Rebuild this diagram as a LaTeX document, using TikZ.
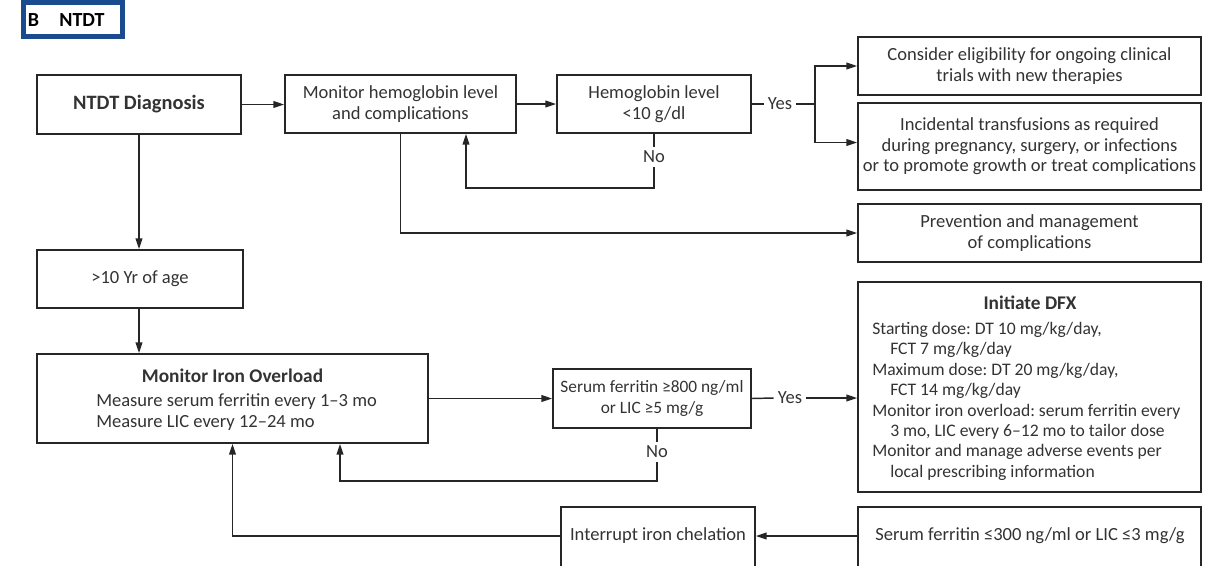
\documentclass[tikz,border=0pt]{standalone}
\usepackage{fontspec}
\setmainfont{Carlito}
\usetikzlibrary{arrows.meta}
\definecolor{ln}{HTML}{262626}
\definecolor{tx}{HTML}{333333}
\definecolor{nejm}{HTML}{1A4B8F}
\frenchspacing
\newcommand\myfs{\fontsize{13.9}{15.4}\selectfont}
\newcommand\dfxfs{\fontsize{13.2}{15.3}\selectfont}
\newcommand\hdfs{\fontsize{14.5}{16}\selectfont\bfseries}
\newcommand\ind{\hspace*{13.5pt}}
\begin{document}
\begin{tikzpicture}[x=0.75pt,y=-0.75pt,
  box/.style={draw=ln, line width=1.3pt, fill=white, inner sep=0pt, align=center, text=tx, font=\myfs},
  sz/.style 2 args={minimum width={#1*0.75pt}, minimum height={#2*0.75pt}},
  txt/.style={inner sep=0pt, text=tx, font=\myfs, align=center},
  con/.style={draw=ln, line width=1.1pt},
  arr/.style={con, -{Triangle[length=8pt,width=5pt]}},
]
\useasboundingbox (0,0) rectangle (1215,565);
\clip (0,0) rectangle (1215,565);

% title
\node[draw=nejm, line width=3.8pt, inner sep=0pt, sz={99}{34}] (ttl) at (73,19.5) {};
\node[txt, font=\fontsize{15}{16}\selectfont\bfseries, text=black] (ttlB) at (33.5,20) {B};
\node[txt, font=\fontsize{15}{16}\selectfont\bfseries, text=black] (ttlN) at (82,20) {NTDT};

% boxes
\node[box, sz={204}{59}, font=\fontsize{15.3}{17}\selectfont\bfseries] (diag) at (139,104.5) {NTDT Diagnosis};
\node[box, sz={231}{58}] (monhb) at (400.5,104) {Monitor hemoglobin level\\and complications};
\node[box, sz={194}{58}] (hb) at (654,104) {Hemoglobin level\\<10 g/dl};
\node[box, sz={343}{58}] (cons) at (1029.5,66) {Consider eligibility for ongoing clinical\\trials with new therapies};
\node[box, sz={343}{87}] (incid) at (1029.5,146.5) {Incidental transfusions as required\\during pregnancy, surgery, or infections\\or to promote growth or treat complications};
\node[box, sz={343}{58}] (prev) at (1029.5,233) {Prevention and management\\of complications};
\node[box, sz={206}{58}] (age) at (140,279) {>10 Yr of age};
\node[box, sz={391}{89}] (iron) at (232.5,398.5) {};
\node[box, sz={198}{59}, font=\fontsize{13}{15.4}\selectfont] (ferr) at (652,398.5) {Serum ferritin ≥800 ng/ml\\or LIC ≥5 mg/g};
\node[box, sz={343}{210}] (dfx) at (1029.5,387) {};
\node[box, sz={194}{80}] (int) at (658,547) {};
\node[box, sz={343}{80}] (sf) at (1029.5,547) {};

% texts inside
\node[txt, font=\hdfs] (ironH) at (232.5,376) {Monitor Iron Overload};
\node[txt, anchor=west, align=left] (ironB) at (96,412) {Measure serum ferritin every 1–3 mo\\Measure LIC every 12–24 mo};
\node[txt, font=\hdfs] (dfxH) at (1030,303) {Initiate DFX};
\node[txt, anchor=north west, align=left, font=\dfxfs] (dfxB) at (872,322) {%
Starting dose: DT 10 mg/kg/day,\\\ind FCT 7 mg/kg/day\\
Maximum dose: DT 20 mg/kg/day,\\\ind FCT 14 mg/kg/day\\
Monitor iron overload: serum ferritin every\\\ind 3 mo, LIC every 6–12 mo to tailor dose\\
Monitor and manage adverse events per\\\ind local prescribing information};
\node[txt] (intT) at (658,536) {Interrupt iron chelation};
\node[txt] (sfT) at (1030,536) {Serum ferritin ≤300 ng/ml or LIC ≤3 mg/g};

% labels
\node[txt] (yes1) at (780,104) {Yes};
\node[txt] (no1) at (654,157) {No};
\node[txt] (yes2) at (790,398) {Yes};
\node[txt] (no2) at (657,452) {No};
\coordinate (sp) at (815,104);
\coordinate (c1) at (466,188);
\coordinate (c2) at (340,481);

% connectors
\draw[arr] (diag.east) -- (diag.east -| monhb.west);
\draw[arr] (monhb.east) -- (monhb.east -| hb.west);
\draw[con] (hb.east) -- ([xshift=-3pt]yes1.west);
\draw[con] ([xshift=3pt]yes1.east) -- (sp);
\draw[arr] (sp) |- (cons.west);
\draw[arr] (sp) |- ([yshift=3pt]incid.west);
\draw[con] (hb.south) -- ([yshift=3pt]no1.north);
\draw[arr] ([yshift=-3pt]no1.south) |- (c1) -- (c1 |- monhb.south);
\draw[arr] (monhb.south) |- (prev.west);
\draw[arr] (diag.south) -- (diag.south |- age.north);
\draw[arr] (diag.south |- age.south) -- (diag.south |- iron.north);
\draw[arr] (iron.east) -- (iron.east -| ferr.west);
\draw[con] (ferr.east) -- ([xshift=-3pt]yes2.west);
\draw[arr] ([xshift=3pt]yes2.east) -- (yes2 -| dfx.west);
\draw[con] (no2 |- ferr.south) -- ([yshift=3pt]no2.north);
\draw[arr] ([yshift=-3pt]no2.south) |- (c2) -- (c2 |- iron.south);
\draw[arr] (sf.west |- sfT) -- (int.east |- intT);
\draw[arr] (int.west |- intT) -| (iron.south);
\end{tikzpicture}
\end{document}
